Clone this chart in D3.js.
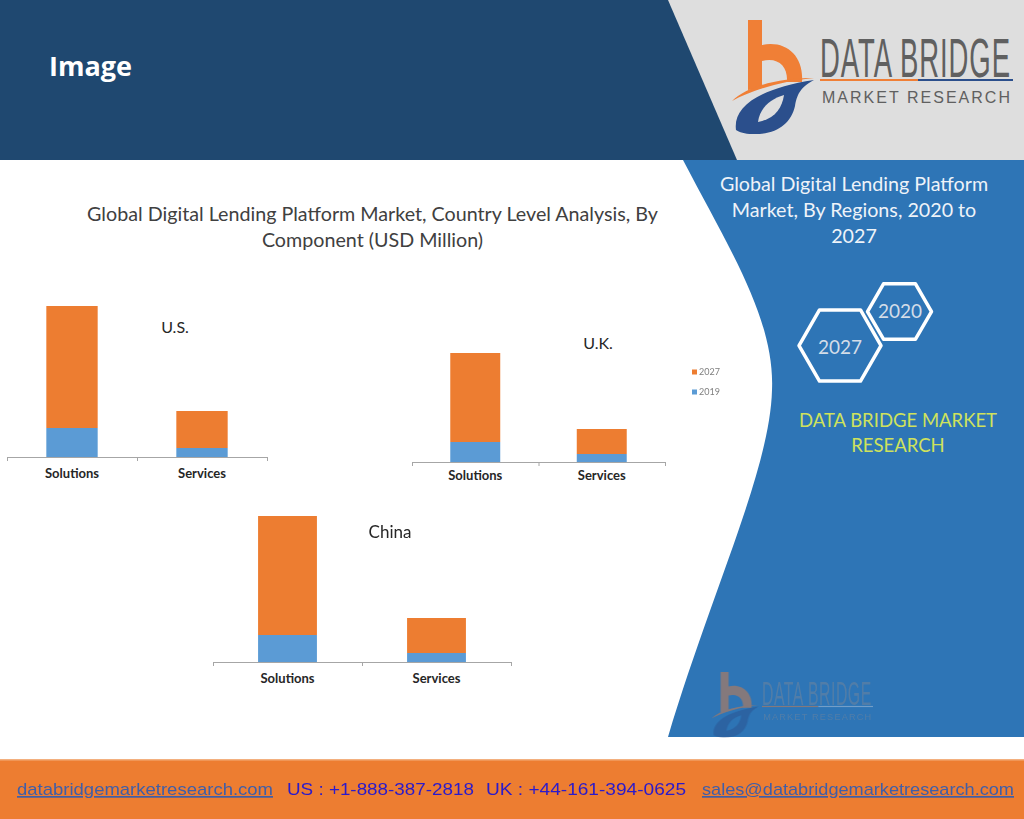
<!DOCTYPE html>
<html><head><meta charset="utf-8">
<script src="https://cdn.jsdelivr.net/npm/d3@7/dist/d3.min.js"></script>
<style>html,body{margin:0;padding:0;background:#fff;overflow:hidden}</style>
</head><body>
<svg id="c" width="1024" height="819" xmlns="http://www.w3.org/2000/svg"></svg>
<script>
// ---- data (USD Million) ----
const components = ["Solutions", "Services"];
const years = ["2027", "2019"];
const us2019 = [290, 90];
const us2027 = [1220, 370];
const uk2019 = [200, 80];
const uk2027 = [890, 250];
const cn2019 = [270, 90];
const cn2027 = [1190, 350];
const yMax = 1600;

const svg = d3.select("#c");
const F = "Lato, 'Open Sans', 'DejaVu Sans', sans-serif";
const orange = "#ed7d31", blue = "#5b9bd5";

// ---- header ----
svg.append("rect").attr("x",0).attr("y",0).attr("width",1024).attr("height",160).attr("fill","#1f4870");
svg.append("path").attr("d","M668,0 L1024,0 L1024,160 L737,160 Z").attr("fill","#dedede");
svg.append("text").attr("x",49).attr("y",76).attr("fill","#fff")
  .attr("font-family","'Open Sans', Lato, sans-serif").attr("font-weight",700).attr("font-size",27).text("Image");

function logo(g, textColor, lineBlue) {
  g.append("path").attr("d","M748,20 L762,20 L762,45 C786,40 804,56 802,82 L787,82 C788,66 778,57 762,61 L762,88 L748,90 Z").attr("fill","#f07f36");
  g.append("path").attr("d","M732,101 C748,86 778,78 814,78 C782,81 752,90 732,101 Z").attr("fill","#f07f36");
  g.append("path").attr("d","M736,130 C733,108 756,89 814,80 C799,88 797,96 795,106 C791,124 776,135 752,134 C745,134 739,132 736,130 Z").attr("fill","#2b4f8c");
  g.append("path").attr("d","M758,122 C760,108 770,99 784,95 C782,108 775,119 758,122 Z").attr("fill", g.attr("data-bg"));
  g.append("text").attr("transform","translate(820,77) scale(1,2.05)").attr("fill",textColor)
    .attr("font-family","'Liberation Sans',sans-serif").attr("font-size",27.5)
    .attr("textLength",190).attr("lengthAdjust","spacing").text("DATA BRIDGE");
  g.append("rect").attr("x",820).attr("y",79).attr("width",98).attr("height",2).attr("fill","#f07f36");
  g.append("rect").attr("x",918).attr("y",79).attr("width",95).attr("height",2).attr("fill",lineBlue);
  g.append("text").attr("x",822).attr("y",103).attr("fill",textColor)
    .attr("font-family","'Liberation Sans','DejaVu Sans',sans-serif").attr("font-size",16)
    .attr("textLength",188).attr("lengthAdjust","spacing").text("MARKET RESEARCH");
}
logo(svg.append("g").attr("data-bg","#dedede"), "#606060", "#2b4f8c");

// ---- right panel ----
svg.append("path")
  .attr("d","M683,160 C730,250 775,320 772,390 C770,470 712,590 668,737 L1024,737 L1024,160 Z")
  .attr("fill","#2e75b6");
const pt = svg.append("g").attr("font-family",F).attr("font-size",19.7).attr("fill","#eef3f9").attr("text-anchor","middle");
[["Global Digital Lending Platform",184],["Market, By Regions, 2020 to",210],["2027",236]].forEach(d=>{
  pt.append("text").attr("x",854).attr("y",d[1]).attr("dy","0.35em").text(d[0]);
});
function hex(cx, cy, r) {
  const pts = d3.range(6).map(i => [cx + r*Math.cos(Math.PI/3*i), cy + r*Math.sin(Math.PI/3*i)]);
  return d3.line().curve(d3.curveLinearClosed)(pts);
}
svg.append("path").attr("d",hex(899.5,311.5,32)).attr("fill","none").attr("stroke","#fff").attr("stroke-width",3.5).attr("stroke-linejoin","round");
svg.append("path").attr("d",hex(840,345.5,41)).attr("fill","none").attr("stroke","#fff").attr("stroke-width",3.5).attr("stroke-linejoin","round");
svg.append("text").attr("x",900).attr("y",311).attr("dy","0.35em").attr("text-anchor","middle")
  .attr("font-family",F).attr("font-size",19).attr("fill","#d3dde8").text("2020");
svg.append("text").attr("x",840).attr("y",347).attr("dy","0.35em").attr("text-anchor","middle")
  .attr("font-family",F).attr("font-size",19).attr("fill","#d3dde8").text("2027");
const gt = svg.append("g").attr("font-family",F).attr("font-size",18.5).attr("fill","#cfe25c").attr("text-anchor","middle");
gt.append("text").attr("x",898).attr("y",421).attr("dy","0.35em").text("DATA BRIDGE MARKET");
gt.append("text").attr("x",898).attr("y",446).attr("dy","0.35em").text("RESEARCH");
logo(svg.append("g").attr("data-bg","#2e75b6").attr("opacity",0.45).attr("transform","translate(290.5,660.5) scale(0.575)"), "#7d8898", "#c9d3df");

// ---- main title ----
const mt = svg.append("g").attr("font-family",F).attr("font-size",19.7).attr("fill","#404040").attr("text-anchor","middle");
mt.append("text").attr("x",372.5).attr("y",214).attr("dy","0.35em").text("Global Digital Lending Platform Market, Country Level Analysis, By");
mt.append("text").attr("x",372.5).attr("y",240).attr("dy","0.35em").text("Component (USD Million)");

// ---- charts ----
const charts = [
  {name:"U.S.",  v19:us2019, v27:us2027, x0:7,   x1:267, ay:457, tx:175, ty:327, ts:16, pad:12, clip:null},
  {name:"U.K.",  v19:uk2019, v27:uk2027, x0:412, x1:665, ay:462, tx:598, ty:343, ts:16, pad:9,  clip:481},
  {name:"China", v19:cn2019, v27:cn2027, x0:213, x1:511, ay:662, tx:390, ty:532, ts:17, pad:12, clip:null}
];
const defs = svg.append("defs");
charts.forEach((c, ci) => {
  const g = svg.append("g");
  if (c.clip) {
    defs.append("clipPath").attr("id","clip"+ci).append("rect").attr("x",0).attr("y",0).attr("width",1024).attr("height",c.clip);
    g.attr("clip-path","url(#clip"+ci+")");
  }
  const x = d3.scaleBand().domain(components).range([c.x0, c.x1]).paddingInner(0.605).paddingOuter(0.3025);
  const y = d3.scaleLinear().domain([0, yMax]).range([c.ay, c.ay - 160]);
  const rows = components.map((k, i) => ({component:k, y2019:c.v19[i], y2027:c.v27[i]}));
  const stack = d3.stack().keys(["y2019","y2027"])(rows);
  const col = {y2019: blue, y2027: orange};
  stack.forEach(s => {
    g.append("g").selectAll("rect").data(s).join("rect")
      .attr("x", d => x(d.data.component)).attr("width", x.bandwidth())
      .attr("y", d => y(d[1])).attr("height", d => y(d[0]) - y(d[1]))
      .attr("fill", col[s.key]);
  });
  const ax = g.append("g").attr("transform",`translate(0,${c.ay})`)
    .call(d3.axisBottom(x).tickSize(0).tickSizeOuter(0).tickPadding(c.pad));
  ax.select(".domain").attr("stroke","#a6a6a6");
  ax.selectAll("text").attr("font-family",F).attr("font-weight",700).attr("font-size",13).attr("fill","#262626");
  const tks = [c.x0, c.x0 + x.step(), c.x1];
  g.append("g").selectAll("line").data(tks).join("line")
    .attr("x1",d=>d+0.5).attr("x2",d=>d+0.5).attr("y1",c.ay).attr("y2",c.ay+4).attr("stroke","#a6a6a6");
  g.append("text").attr("x",c.tx).attr("y",c.ty).attr("dy","0.35em").attr("text-anchor","middle")
    .attr("font-family",F).attr("font-size",c.ts).attr("fill","#262626").text(c.name);
});

// ---- legend ----
const lg = svg.append("g").attr("font-family",F).attr("font-size",9).attr("fill","#7f7f7f");
years.forEach((yr, i) => {
  const yy = 372 + i*20;
  lg.append("rect").attr("x",692).attr("y",yy-2.5).attr("width",5).attr("height",5).attr("fill", yr==="2027"?orange:blue);
  lg.append("text").attr("x",699).attr("y",yy).attr("dy","0.35em").text(yr);
});

// ---- footer ----
svg.append("rect").attr("x",0).attr("y",760).attr("width",1024).attr("height",59).attr("fill","#ed7d31");
svg.append("rect").attr("x",0).attr("y",759).attr("width",1024).attr("height",1.5).attr("fill","#f3b07f");
const ft = svg.append("g").attr("font-family","'Liberation Sans Narrow','Liberation Sans',sans-serif").attr("font-size",17);
[
  {t:"databridgemarketresearch.com", x:17, w:256, c:"#3f5ea8", u:true},
  {t:"US : +1-888-387-2818", x:287, w:187, c:"#2a1acc", u:false},
  {t:"UK : +44-161-394-0625", x:486, w:200, c:"#2a1acc", u:false},
  {t:"sales@databridgemarketresearch.com", x:702, w:312, c:"#3f5ea8", u:true}
].forEach(d => {
  ft.append("text").attr("x",d.x).attr("y",795).attr("fill",d.c)
    .attr("textLength",d.w).attr("lengthAdjust","spacingAndGlyphs")
    .attr("text-decoration", d.u ? "underline" : null).text(d.t);
});
</script>
</body></html>
